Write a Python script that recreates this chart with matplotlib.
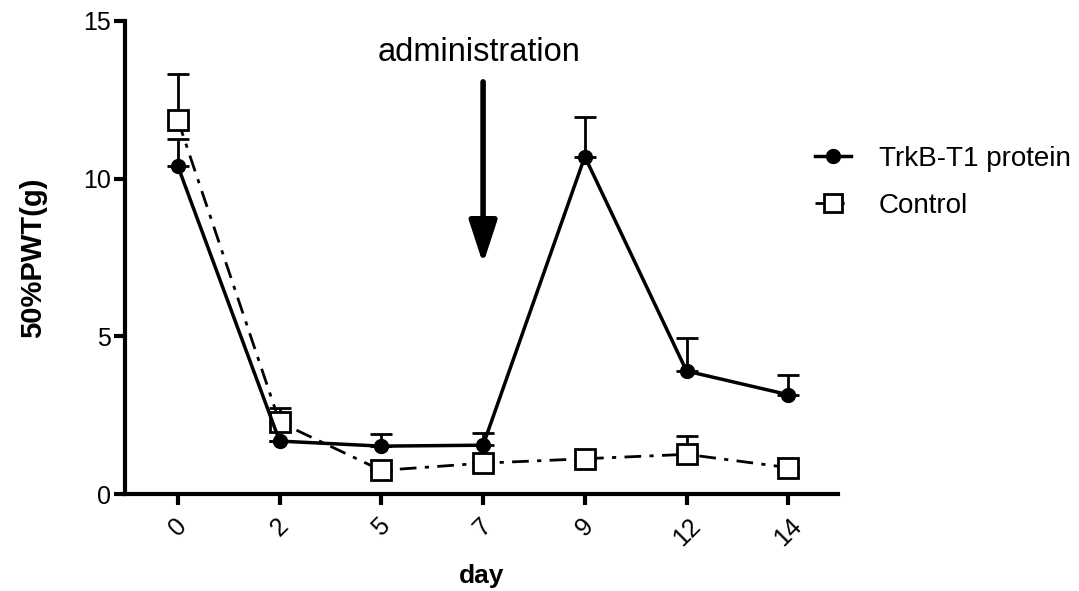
import numpy as np
import matplotlib
matplotlib.use('Agg')
import matplotlib.pyplot as plt
from matplotlib.lines import Line2D

plt.rcParams['font.family'] = ['Liberation Sans', 'DejaVu Sans']

days = ["0", "2", "5", "7", "9", "12", "14"]
trkb = [10.4, 1.68, 1.52, 1.55, 10.7, 3.9, 3.15]
trkb_err = [0.85, 0.0, 0.4, 0.4, 1.25, 1.05, 0.62]
control = [11.86, 2.28, 0.75, 0.98, 1.12, 1.26, 0.84]
control_err = [1.45, 0.45, 0.0, 0.0, 0.0, 0.58, 0.0]

x = np.arange(len(days))
dashdot = (0, (6, 3, 1.5, 3))

fig = plt.figure(figsize=(10.79, 5.91), dpi=100)
ax = fig.add_axes([0.1158, 0.164, 0.661, 0.8005])

# control group, open squares, dash-dot
ax.errorbar(x, control, yerr=[np.zeros(len(x)), control_err], color='black',
            linestyle=dashdot, linewidth=2, marker='s', markersize=14,
            markerfacecolor='white', markeredgecolor='black', markeredgewidth=2,
            capsize=8, capthick=2, elinewidth=2, zorder=3)

# treated group, filled circles, solid
ax.errorbar(x, trkb, yerr=[np.zeros(len(x)), trkb_err], color='black',
            linestyle='-', linewidth=2.5, marker='o', markersize=10,
            capsize=8, capthick=2, elinewidth=2, zorder=4)

ax.set_xlim(-0.52, 6.49)
ax.set_ylim(0, 15)
ax.set_yticks([0, 5, 10, 15])
ax.set_xticks(x)
ax.set_xticklabels(days, rotation=45, ha='center')

for s in ['top', 'right']:
    ax.spines[s].set_visible(False)
for s in ['left', 'bottom']:
    ax.spines[s].set_linewidth(3)
ax.tick_params(axis='both', width=3, length=8, labelsize=18)
ax.tick_params(axis='x', pad=6)
ax.tick_params(axis='y', pad=2)

ax.set_xlabel('day', fontsize=19, fontweight='bold', labelpad=10)
ax.set_ylabel('50%PWT(g)', fontsize=21, fontweight='bold', labelpad=26)

# treatment marker
ax.annotate('', xy=(3, 7.3), xytext=(3, 13.07),
            arrowprops=dict(arrowstyle='-|>,head_width=0.85,head_length=2.6',
                            color='black', linewidth=4, shrinkA=0, shrinkB=0))
ax.text(2.96, 14.0, 'administration', ha='center', va='center', fontsize=23.5)

handles = [
    Line2D([], [], color='black', linewidth=2.5, marker='o', markersize=10),
    Line2D([], [], color='black', linewidth=2, linestyle=dashdot, marker='s',
           markersize=13, markerfacecolor='white', markeredgewidth=2),
]
fig.legend(handles, ['TrkB-T1 protein', 'Control'], loc='upper left',
           bbox_to_anchor=(815 / 1079, 1 - 146 / 591), frameon=False, fontsize=20,
           handlelength=1.3, labelspacing=0.75, handletextpad=1.0,
           borderaxespad=0, borderpad=0)

fig.savefig('out.png', dpi=100)
